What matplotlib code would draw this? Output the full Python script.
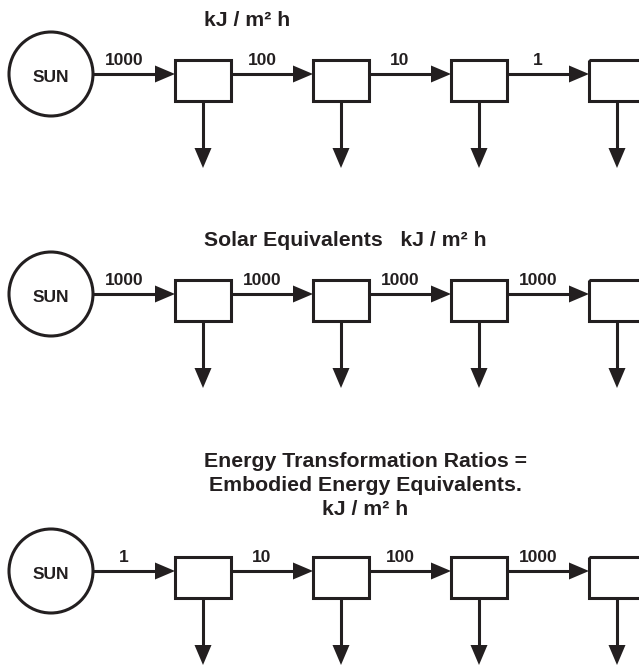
import matplotlib.pyplot as plt
from matplotlib.patches import Circle, Rectangle, Polygon

# flow values on the four arrows of each chain
flows_top = ["1000", "100", "10", "1"]
flows_mid = ["1000", "1000", "1000", "1000"]
flows_bot = ["1", "10", "100", "1000"]

title_top = ["kJ / m\u00b2 h"]
title_mid = ["Solar Equivalents   kJ / m\u00b2 h"]
title_bot = ["Energy Transformation Ratios =",
             "Embodied Energy Equivalents.",
             "kJ / m\u00b2 h"]

ink = "#231f20"
lw = 2.2
font = dict(family="Liberation Sans", weight="bold", color=ink)

fig = plt.figure(figsize=(6.39, 6.65), dpi=100)
ax = fig.add_axes([0, 0, 1, 1])
ax.set_xlim(0, 639)
ax.set_ylim(665, 0)
ax.axis("off")

sun_x, sun_r = 51, 42
box_w, box_h, box_up = 56, 41, 14
head_len, head_half = 20, 8.5


def arrow(x0, y0, x1, y1):
    # straight shaft plus a filled triangular head ending at (x1, y1)
    if y0 == y1:
        bx, by = x1 - head_len, y1
        pts = [(x1, y1), (bx, by - head_half), (bx, by + head_half)]
    else:
        bx, by = x1, y1 - head_len
        pts = [(x1, y1), (bx - head_half, by), (bx + head_half, by)]
    ax.plot([x0, bx], [y0, by], color=ink, lw=lw, solid_capstyle="butt")
    ax.add_patch(Polygon(pts, closed=True, color=ink, lw=0))


def chain(y, flows):
    ax.add_patch(Circle((sun_x, y), sun_r, fill=False, ec=ink, lw=lw))
    ax.text(sun_x, y + 8, "SUN", ha="center", va="baseline", fontsize=12.5, **font)
    src = sun_x + sun_r
    for i, val in enumerate(flows):
        left = 175 + i * 138
        arrow(src, y, left, y)
        ax.text((src + left - head_len) / 2, y - 9, val, ha="center", va="baseline",
                fontsize=12.5, **font)
        ax.add_patch(Rectangle((left, y - box_up), box_w, box_h, fill=False,
                               ec=ink, lw=lw, joinstyle="miter"))
        cx = left + box_w / 2
        arrow(cx, y - box_up + box_h, cx, y + 94)
        src = left + box_w


chain(74, flows_top)
ax.text(204, 26, title_top[0], ha="left", va="baseline", fontsize=15.3, **font)

chain(294, flows_mid)
ax.text(204, 246, title_mid[0], ha="left", va="baseline", fontsize=15.3, **font)

chain(571, flows_bot)
for k, line in enumerate(title_bot):
    ax.text(365, 467 + 24 * k, line, ha="center", va="baseline", fontsize=15.3, **font)

fig.savefig("out.png", dpi=100)
